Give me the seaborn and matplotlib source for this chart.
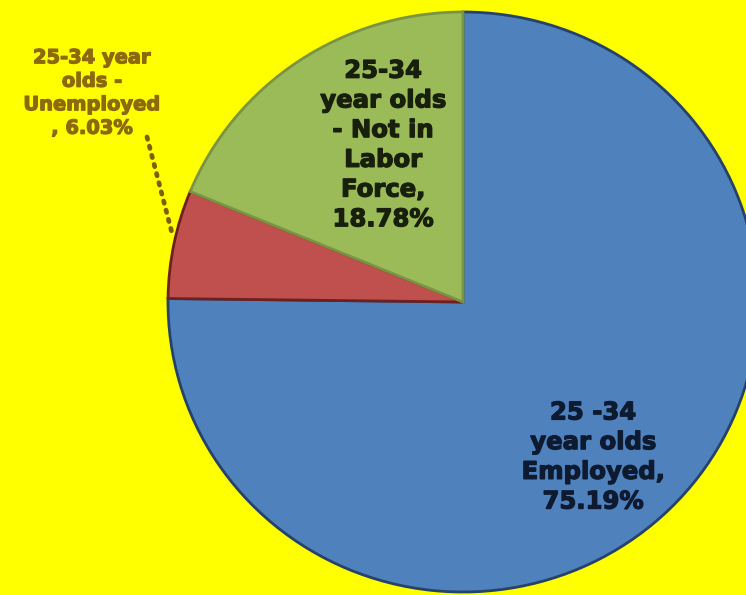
import matplotlib
matplotlib.use("Agg")
import matplotlib.pyplot as plt
import matplotlib.patheffects as pe
import seaborn as sns

categories = ["25 -34\nyear olds\nEmployed,", "25-34 year\nolds -\nUnemployed\n,", "25-34\nyear olds\n- Not in\nLabor\nForce,"]
values = [75.19, 6.03, 18.78]
colors = ["#4F81BD", "#C0504D", "#9BBB59"]
edge_colors = ["#25426A", "#6E2020", "#7A9444"]

sns.set_style("white")
plt.rcParams['font.family'] = ['DejaVu Sans']

W, H = 746, 595
CX, CY, RX, RY = 463, 302, 295, 290


def px(x, y):
    return (x - CX) / RX, (CY - y) / RY


fig = plt.figure(figsize=(W / 100, H / 100), dpi=100)
fig.patch.set_facecolor("#FFFF00")
ax = fig.add_axes([0, 0, 1, 1])
ax.set_facecolor("#FFFF00")

wedges, _ = ax.pie(values, colors=colors, startangle=90, counterclock=False,
                   radius=1.0, center=(0, 0), normalize=True,
                   wedgeprops=dict(linewidth=2.0))
for w, ec in zip(wedges, edge_colors):
    w.set_edgecolor(ec)

ax.set_xlim(-CX / RX, (W - CX) / RX)
ax.set_ylim(-(H - CY) / RY, CY / RY)
ax.set_aspect('auto')
ax.axis('off')


def label(x, y, s, size, color, ls):
    t = ax.text(*px(x, y), s, ha='center', va='center', fontsize=size,
                fontweight='bold', color=color, linespacing=ls)
    t.set_path_effects([pe.withStroke(linewidth=0.9, foreground=color)])


label(593, 457, f"{categories[0]}\n{values[0]:.2f}%", 17.5, '#0E1A30', 1.3)
label(383, 145, f"{categories[2]}\n{values[2]:.2f}%", 17.5, '#18200C', 1.3)
label(92, 93, f"{categories[1]} {values[1]:.2f}%", 14, '#8C6A0C', 1.3)

# leader line for the small slice
(x0, y0), (x1, y1) = px(147, 137), px(173, 237)
ax.plot([x0, x1], [y0, y1], linestyle=(0, (0.5, 1.5)), linewidth=3.4, color='#7E5E08',
        dash_capstyle='round')

fig.savefig("out.png", dpi=100, facecolor=fig.get_facecolor())
